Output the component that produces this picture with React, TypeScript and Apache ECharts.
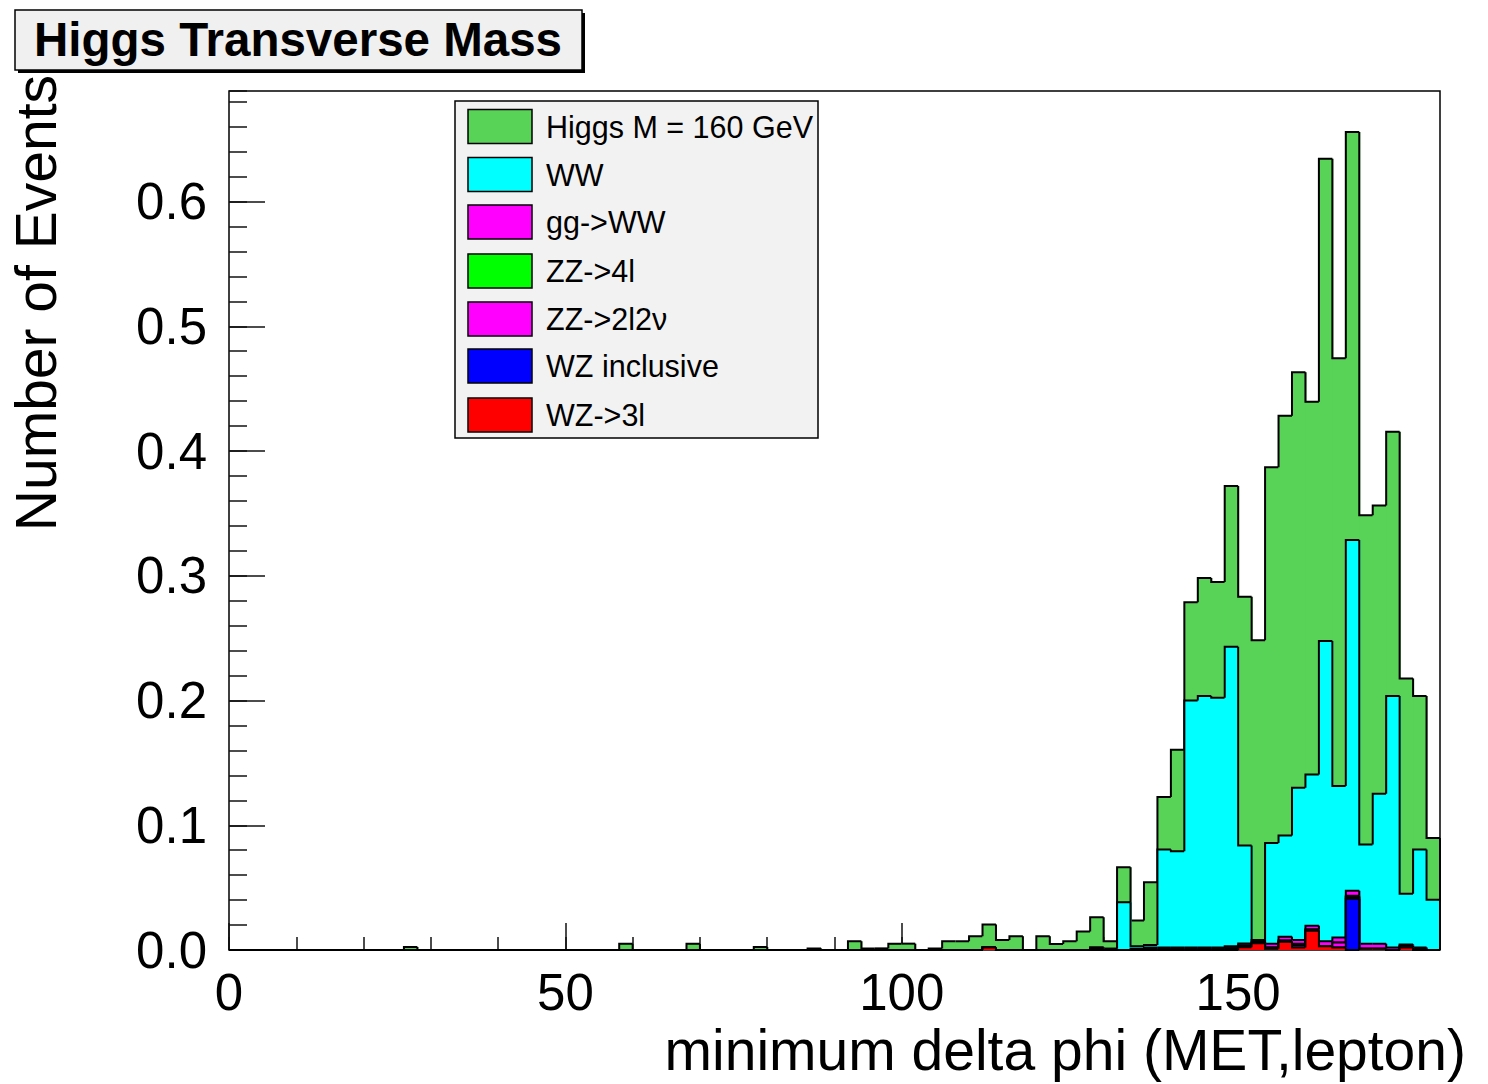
import React, { useEffect, useRef } from "react";
import * as echarts from "echarts";

// Histogram: 90 bins of width 2 over [0, 180]
const binWidth = 2;
const xMin = 0;
const xMax = 180;
const yMax = 0.6886;
const xTickLabels = [0, 50, 100, 150];
const yTickLabels = ["0.0", "0.1", "0.2", "0.3", "0.4", "0.5", "0.6"];

const higgs = [
  0, 0, 0, 0, 0, 0, 0, 0, 0, 0,
  0, 0, 0, 0.0025, 0, 0, 0, 0, 0, 0,
  0, 0, 0, 0, 0, 0, 0, 0, 0, 0.005,
  0, 0, 0, 0, 0.005, 0, 0, 0, 0, 0.0025,
  0, 0, 0, 0.0013, 0, 0, 0.007, 0.0013, 0.0013, 0.0051,
  0.0051, 0, 0.0013, 0.007, 0.007, 0.011, 0.0184, 0.0081, 0.011, 0,
  0.011, 0.0049, 0.007, 0.0148, 0.0242, 0.006, 0.0281, 0.0206, 0.0503, 0.042,
  0.0814, 0.0788, 0.0947, 0.0928, 0.1289, 0.1993, 0.2402, 0.3012, 0.3365, 0.3331,
  0.2988, 0.3865, 0.343, 0.3272, 0.264, 0.2311, 0.2119, 0.1726, 0.123, 0.0495,
];

const ww = [
  0, 0, 0, 0, 0, 0, 0, 0, 0, 0,
  0, 0, 0, 0, 0, 0, 0, 0, 0, 0,
  0, 0, 0, 0, 0, 0, 0, 0, 0, 0,
  0, 0, 0, 0, 0, 0, 0, 0, 0, 0,
  0, 0, 0, 0, 0, 0, 0, 0, 0, 0,
  0, 0, 0, 0, 0, 0, 0, 0, 0, 0,
  0, 0, 0, 0, 0, 0, 0.0383, 0.002, 0.002, 0.0786,
  0.0772, 0.198, 0.2016, 0.2003, 0.24, 0.0786, 0, 0.0807, 0.0811, 0.1221,
  0.1212, 0.2408, 0.1214, 0.2811, 0.0796, 0.1203, 0.2016, 0.0405, 0.0786, 0.0402,
];

const ggWW = [
  0, 0, 0, 0, 0, 0, 0, 0, 0, 0,
  0, 0, 0, 0, 0, 0, 0, 0, 0, 0,
  0, 0, 0, 0, 0, 0, 0, 0, 0, 0,
  0, 0, 0, 0, 0, 0, 0, 0, 0, 0,
  0, 0, 0, 0, 0, 0, 0, 0, 0, 0,
  0, 0, 0, 0, 0, 0, 0, 0, 0, 0,
  0, 0, 0, 0, 0.001, 0.0005, 0, 0.001, 0.001, 0.001,
  0.001, 0.001, 0.001, 0.001, 0.0015, 0.0015, 0.0017, 0.003, 0.003, 0.003,
  0.003, 0.004, 0.004, 0.004, 0.004, 0.004, 0.002, 0.001, 0.001, 0,
];

const zz4l = [
  0, 0, 0, 0, 0, 0, 0, 0, 0, 0,
  0, 0, 0, 0, 0, 0, 0, 0, 0, 0,
  0, 0, 0, 0, 0, 0, 0, 0, 0, 0,
  0, 0, 0, 0, 0, 0, 0, 0, 0, 0,
  0, 0, 0, 0, 0, 0, 0, 0, 0, 0,
  0, 0, 0, 0, 0, 0, 0, 0, 0, 0,
  0, 0, 0, 0, 0, 0.0005, 0, 0, 0, 0,
  0, 0, 0, 0, 0, 0, 0, 0, 0, 0.001,
  0, 0, 0, 0.001, 0, 0, 0, 0, 0, 0,
];

const zz2l2v = [
  0, 0, 0, 0, 0, 0, 0, 0, 0, 0,
  0, 0, 0, 0, 0, 0, 0, 0, 0, 0,
  0, 0, 0, 0, 0, 0, 0, 0, 0, 0,
  0, 0, 0, 0, 0, 0, 0, 0, 0, 0,
  0, 0, 0, 0, 0, 0, 0, 0, 0, 0,
  0, 0, 0, 0, 0, 0, 0, 0, 0, 0,
  0, 0, 0, 0, 0.001, 0, 0, 0, 0.001, 0.001,
  0.001, 0.001, 0.001, 0.001, 0.0015, 0.0015, 0.001, 0.001, 0.001, 0.002,
  0.001, 0, 0.004, 0.0015, 0, 0, 0, 0.0015, 0.001, 0,
];

const wzInclusive = [
  0, 0, 0, 0, 0, 0, 0, 0, 0, 0,
  0, 0, 0, 0, 0, 0, 0, 0, 0, 0,
  0, 0, 0, 0, 0, 0, 0, 0, 0, 0,
  0, 0, 0, 0, 0, 0, 0, 0, 0, 0,
  0, 0, 0, 0, 0, 0, 0, 0, 0, 0,
  0, 0, 0, 0, 0, 0, 0, 0, 0, 0,
  0, 0, 0, 0, 0, 0, 0, 0, 0, 0,
  0, 0, 0, 0, 0, 0, 0, 0, 0, 0,
  0, 0, 0, 0.041, 0, 0, 0, 0, 0, 0,
];

const wz3l = [
  0, 0, 0, 0, 0, 0, 0, 0, 0, 0,
  0, 0, 0, 0, 0, 0, 0, 0, 0, 0,
  0, 0, 0, 0, 0, 0, 0, 0, 0, 0,
  0, 0, 0, 0, 0, 0, 0, 0, 0, 0,
  0, 0, 0, 0, 0, 0, 0, 0, 0, 0,
  0, 0, 0, 0, 0, 0, 0.002, 0, 0, 0,
  0, 0, 0, 0, 0, 0, 0, 0, 0, 0,
  0, 0, 0, 0, 0, 0.0022, 0.0054, 0.001, 0.0067, 0.002,
  0.0155, 0.003, 0.002, 0, 0.001, 0.001, 0, 0.002, 0, 0,
];

// Stack order, bottom to top
const layerNames = ["WZ->3l", "WZ inclusive", "ZZ->2l2v", "ZZ->4l", "gg->WW", "WW", "Higgs M = 160 GeV"];
const layerColors = ["#ff0000", "#0000ff", "#ff00ff", "#00ff00", "#ff00ff", "#00ffff", "#58d357"];
const layerValues = [wz3l, wzInclusive, zz2l2v, zz4l, ggWW, ww, higgs];

// Legend order (top to bottom)
const legendNames = ["Higgs M = 160 GeV", "WW", "gg->WW", "ZZ->4l", "ZZ->2l2v", "WZ inclusive", "WZ->3l"];
const legendLabels = ["Higgs M = 160 GeV", "WW", "gg->WW", "ZZ->4l", "ZZ->2l2\u03bd", "WZ inclusive", "WZ->3l"];

const FONT = "Liberation Sans, Arial, Helvetica, sans-serif";

export default function App() {
  const ref = useRef<HTMLDivElement>(null);

  useEffect(() => {
    document.body.style.margin = "0";
    const chart = echarts.init(ref.current!, null, { renderer: "svg" });

    const nBins = higgs.length;
    // cumulative stacks
    const cum: number[][] = [];
    layerValues.forEach((arr, k) => {
      cum.push(arr.map((v, i) => v + (k > 0 ? cum[k - 1][i] : 0)));
    });

    const series: any[] = [];
    for (let k = layerValues.length - 1; k >= 0; k--) {
      const c = cum[k];
      const color = layerColors[k];
      const data = c.map((v, i) => [
        xMin + i * binWidth,
        xMin + (i + 1) * binWidth,
        v,
        i > 0 ? c[i - 1] : 0,
        i === nBins - 1 ? 1 : 0,
      ]);
      series.push({
        type: "custom",
        name: layerNames[k],
        xAxisIndex: 0,
        yAxisIndex: 0,
        silent: true,
        data,
        encode: { x: [0, 1], y: [2] },
        renderItem: (params: any, api: any) => {
          const x0 = api.value(0);
          const x1 = api.value(1);
          const top = api.value(2);
          const prev = api.value(3);
          const last = api.value(4);
          const pBL = api.coord([x0, 0]);
          const pTR = api.coord([x1, top]);
          const pTL = api.coord([x0, top]);
          const pPrev = api.coord([x0, prev]);
          const pBR = api.coord([x1, 0]);
          const extra = last ? 0 : 1;
          const children: any[] = [
            {
              type: "rect",
              shape: {
                x: pBL[0],
                y: pTR[1],
                width: pTR[0] - pBL[0] + extra,
                height: pBL[1] - pTR[1],
              },
              style: { fill: color, stroke: null },
            },
            {
              type: "polyline",
              shape: { points: [pPrev, pTL, pTR] },
              style: { stroke: "#000", lineWidth: 2, fill: null },
            },
          ];
          if (last) {
            children.push({
              type: "line",
              shape: { x1: pTR[0], y1: pTR[1], x2: pBR[0], y2: pBR[1] },
              style: { stroke: "#000", lineWidth: 2 },
            });
          }
          return { type: "group", children };
        },
      });
    }

    // Legend graphics
    const legendTop = 101;
    const legendCenters = [126.5, 174.5, 222, 271, 319, 366, 415];
    const legendEls: any[] = [
      {
        type: "rect",
        shape: { x: 455, y: legendTop, width: 363, height: 337 },
        style: { fill: "#f2f2f2", stroke: "#000", lineWidth: 1.5 },
      },
    ];
    legendNames.forEach((nm, j) => {
      const k = layerNames.indexOf(nm);
      const cy = legendCenters[j];
      legendEls.push({
        type: "rect",
        shape: { x: 468, y: cy - 17, width: 64, height: 34 },
        style: { fill: layerColors[k], stroke: "#000", lineWidth: 1.5 },
      });
      legendEls.push({
        type: "text",
        x: 546,
        y: cy,
        style: {
          text: legendLabels[j],
          fontSize: 30.5,
          fontFamily: FONT,
          fill: "#000",
          textAlign: "left",
          textVerticalAlign: "middle",
          align: "left",
          verticalAlign: "middle",
        },
      });
    });

    const option: any = {
      animation: false,
      backgroundColor: "#ffffff",
      grid: {
        left: 229,
        top: 91,
        width: 1211,
        height: 859,
        show: true,
        borderColor: "#000",
        borderWidth: 1.5,
        backgroundColor: "transparent",
        containLabel: false,
      },
      xAxis: [
        {
          type: "value",
          min: xMin,
          max: xMax,
          interval: 50,
          position: "bottom",
          axisLine: { show: false },
          axisTick: { show: true, inside: true, length: 27, lineStyle: { color: "#111", width: 1.5 } },
          axisLabel: {
            show: true,
            margin: 17,
            fontSize: 51,
            fontFamily: FONT,
            color: "#000",
            showMaxLabel: false,
            showMinLabel: true,
            formatter: (v: number) => (xTickLabels.includes(v) ? String(v) : ""),
          },
          splitLine: { show: false },
        },
        {
          type: "value",
          min: xMin,
          max: xMax,
          interval: 10,
          position: "bottom",
          axisLine: { show: false },
          axisTick: { show: true, inside: true, length: 13, lineStyle: { color: "#111", width: 1.5 } },
          axisLabel: { show: false },
          splitLine: { show: false },
        },
      ],
      yAxis: [
        {
          type: "value",
          min: 0,
          max: yMax,
          interval: 0.1,
          position: "left",
          axisLine: { show: false },
          axisTick: { show: true, inside: true, length: 36, lineStyle: { color: "#111", width: 1.5 } },
          axisLabel: {
            show: true,
            margin: 22,
            fontSize: 51,
            fontFamily: FONT,
            color: "#000",
            showMaxLabel: false,
            showMinLabel: true,
            formatter: (v: number) => {
              const idx = Math.round(v * 10);
              return Math.abs(v * 10 - idx) < 1e-6 && idx < yTickLabels.length ? yTickLabels[idx] : "";
            },
          },
          splitLine: { show: false },
        },
        {
          type: "value",
          min: 0,
          max: yMax,
          interval: 0.02,
          position: "left",
          axisLine: { show: false },
          axisTick: { show: true, inside: true, length: 18, lineStyle: { color: "#111", width: 1.5 } },
          axisLabel: { show: false },
          splitLine: { show: false },
        },
      ],
      series,
      graphic: [
        // title box with shadow
        {
          type: "rect",
          shape: { x: 18, y: 13, width: 567, height: 60 },
          style: { fill: "#000" },
          z: 100,
        },
        {
          type: "rect",
          shape: { x: 15, y: 10, width: 567, height: 60 },
          style: { fill: "#f0f0f0", stroke: "#000", lineWidth: 1.5 },
          z: 101,
        },
        {
          type: "text",
          x: 298,
          y: 39,
          z: 102,
          style: {
            text: "Higgs Transverse Mass",
            fontSize: 47.5,
            fontWeight: "bold",
            fontFamily: FONT,
            fill: "#000",
            textAlign: "center",
            textVerticalAlign: "middle",
            align: "center",
            verticalAlign: "middle",
          },
        },
        // y axis title
        {
          type: "text",
          x: 36,
          y: 75,
          rotation: Math.PI / 2,
          z: 50,
          style: {
            text: "Number of Events",
            fontSize: 57,
            fontFamily: FONT,
            fill: "#000",
            textAlign: "right",
            textVerticalAlign: "middle",
            align: "right",
            verticalAlign: "middle",
          },
        },
        // x axis title
        {
          type: "text",
          x: 1466,
          y: 1050,
          z: 50,
          style: {
            text: "minimum delta phi (MET,lepton)",
            fontSize: 57,
            fontFamily: FONT,
            fill: "#000",
            textAlign: "right",
            textVerticalAlign: "middle",
            align: "right",
            verticalAlign: "middle",
          },
        },
        {
          type: "group",
          z: 60,
          children: legendEls,
        },
      ],
    };

    chart.setOption(option);
    return () => chart.dispose();
  }, []);

  return <div ref={ref} style={{ width: 1488, height: 1084 }} />;
}
